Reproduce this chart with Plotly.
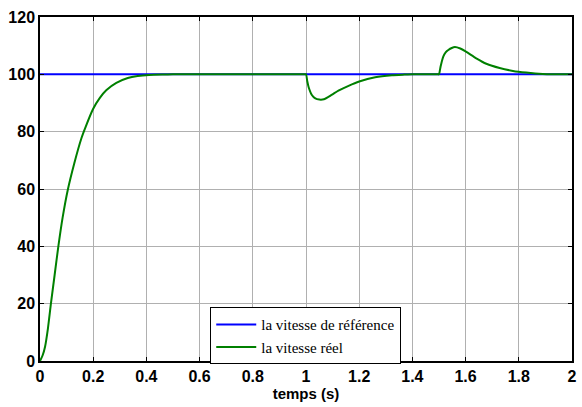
import plotly.graph_objects as go

# Reference speed
t_ref = [0.0, 2.0]
v_ref = [100, 100]

t_real = [0.0, 0.01, 0.019, 0.03, 0.041, 0.055, 0.069, 0.085, 0.104, 0.129, 0.156, 0.172,
          0.2, 0.225, 0.25, 0.287, 0.33, 0.367, 0.41, 0.46, 0.5, 0.6, 0.7, 0.8, 0.9, 0.97, 0.995,
          1.0, 1.005, 1.01, 1.022, 1.035, 1.05, 1.067, 1.096, 1.122, 1.16, 1.2, 1.26,
          1.323, 1.37, 1.4, 1.43, 1.47, 1.495,
          1.5, 1.503, 1.506, 1.516, 1.525, 1.535, 1.548, 1.56, 1.58, 1.6, 1.64, 1.678, 1.728,
          1.778, 1.828, 1.89, 1.93, 1.97, 2.0]
v_real = [0.0, 2.0, 5.0, 11.5, 20.0, 30.0, 40.0, 50.0, 59.5, 69.0, 77.8, 81.8,
          88.0, 91.8, 94.5, 97.0, 98.7, 99.4, 99.8, 99.95, 100.0, 100.0, 100.0, 100.0, 100.0, 100.0, 100.0,
          100.0, 97.5, 95.5, 92.8, 91.6, 91.2, 91.3, 92.8, 94.3, 96.0, 97.5, 99.0,
          99.7, 99.9, 100.0, 100.0, 100.0, 100.0,
          100.0, 101.2, 102.7, 106.2, 107.7, 108.5, 109.2, 109.5, 109.0, 108.0, 105.6, 103.7,
          102.2, 101.2, 100.6, 100.1, 100.0, 100.0, 100.0]

x_ticks = [0, 0.2, 0.4, 0.6, 0.8, 1.0, 1.2, 1.4, 1.6, 1.8, 2.0]
x_tick_text = ["0", "0.2", "0.4", "0.6", "0.8", "1", "1.2", "1.4", "1.6", "1.8", "2"]
y_ticks = [0, 20, 40, 60, 80, 100, 120]
y_tick_text = ["0", "20", "40", "60", "80", "100", "120"]

fig = go.Figure()
fig.add_trace(go.Scatter(x=t_ref, y=v_ref, mode="lines", name="la vitesse de référence",
                         line=dict(color="#0000ff", width=2)))
fig.add_trace(go.Scatter(x=t_real, y=v_real, mode="lines", name="la vitesse réel",
                         line=dict(color="#008000", width=2, shape="spline", smoothing=0.6)))

axis_common = dict(
    showline=True, linecolor="black", linewidth=1.5, mirror="allticks",
    ticks="inside", ticklen=4, tickcolor="black",
    showgrid=True, gridcolor="#b0b0b0", gridwidth=1,
    zeroline=False,
    tickfont=dict(family="Liberation Sans, Arial, sans-serif", size=16, color="black",
                  weight="bold"),
)

fig.update_layout(
    width=582, height=407,
    margin=dict(l=40, r=5, t=17, b=46),
    paper_bgcolor="white", plot_bgcolor="white",
    xaxis=dict(range=[0, 2], tickvals=x_ticks, ticktext=x_tick_text,
               title=dict(text="temps (s)", standoff=2,
                          font=dict(family="Liberation Sans, Arial, sans-serif", size=15,
                                    color="black", weight="bold")),
               **axis_common),
    yaxis=dict(range=[0, 120], tickvals=y_ticks, ticktext=y_tick_text, **axis_common),
    legend=dict(x=0.32, y=0.156, xanchor="left", yanchor="top",
                bgcolor="white", bordercolor="black", borderwidth=1,
                font=dict(family="Liberation Serif, Times New Roman, serif", size=15,
                          color="black"),
                itemwidth=40, tracegroupgap=0),
    showlegend=True,
)

fig.write_html("out.html")
